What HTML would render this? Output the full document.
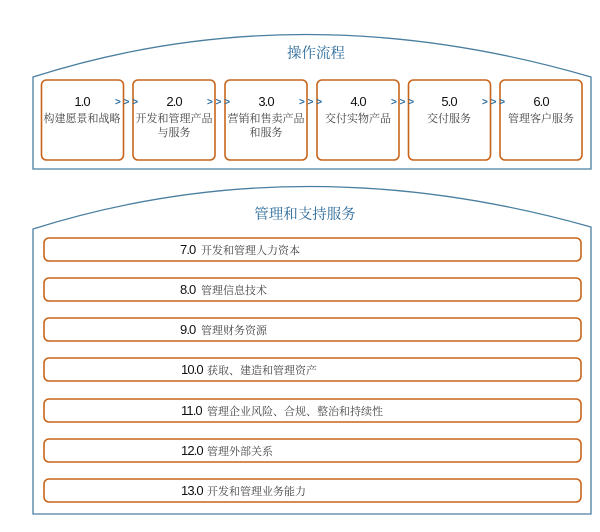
<!DOCTYPE html>
<html><head><meta charset="utf-8"><style>
body{margin:0;background:#fff;}
svg text{font-family:"Liberation Sans","Noto Sans CJK SC",sans-serif;}
.n{font-size:13px;fill:#111;letter-spacing:-0.9px;}
.c{font-family:"Noto Serif CJK SC","Liberation Serif",serif !important;font-size:11px;fill:#444;}
.t{font-family:"Noto Serif CJK SC","Liberation Serif",serif !important;font-size:14.5px;fill:#2a6a9a;}
.a{font-size:10px;fill:#2a6a9a;font-weight:bold;}
</style></head><body>
<svg width="600" height="527" viewBox="0 0 600 527" xmlns="http://www.w3.org/2000/svg">
<path d="M33,169 L33,77 Q300,-8 591,77 L591,169 Z" fill="#fff" stroke="#4a7fa0" stroke-width="1.3"/>
<path d="M33,514 L33,229 Q300,145 591,227 L591,514 Z" fill="#fff" stroke="#4a7fa0" stroke-width="1.3"/>
<text class="t" x="316" y="58" text-anchor="middle">操作流程</text>
<text class="t" x="305" y="219" text-anchor="middle">管理和支持服务</text>
<g fill="none" stroke="#c8651b" stroke-width="1.6">
<rect x="41.5" y="80" width="82" height="80" rx="5"/>
<rect x="133" y="80" width="82" height="80" rx="5"/>
<rect x="225" y="80" width="82" height="80" rx="5"/>
<rect x="317" y="80" width="82" height="80" rx="5"/>
<rect x="408.5" y="80" width="82" height="80" rx="5"/>
<rect x="500" y="80" width="82" height="80" rx="5"/>
<rect x="44" y="238" width="537" height="23" rx="5"/>
<rect x="44" y="278" width="537" height="23" rx="5"/>
<rect x="44" y="318" width="537" height="23" rx="5"/>
<rect x="44" y="358" width="537" height="23" rx="5"/>
<rect x="44" y="399" width="537" height="23" rx="5"/>
<rect x="44" y="439" width="537" height="23" rx="5"/>
<rect x="44" y="479" width="537" height="23" rx="5"/>
</g>
<g class="a">
<text x="115" y="105">&gt; &gt; &gt;</text>
<text x="207" y="105">&gt; &gt; &gt;</text>
<text x="299" y="105">&gt; &gt; &gt;</text>
<text x="391" y="105">&gt; &gt; &gt;</text>
<text x="482" y="105">&gt; &gt; &gt;</text>
</g>
<g text-anchor="middle">
<text class="n" x="82" y="106">1.0</text><text class="c" x="82" y="122">构建愿景和战略</text>
<text class="n" x="174" y="106">2.0</text><text class="c" x="174" y="122">开发和管理产品</text><text class="c" x="174" y="136">与服务</text>
<text class="n" x="266" y="106">3.0</text><text class="c" x="266" y="122">营销和售卖产品</text><text class="c" x="266" y="136">和服务</text>
<text class="n" x="358" y="106">4.0</text><text class="c" x="358" y="122">交付实物产品</text>
<text class="n" x="449" y="106">5.0</text><text class="c" x="449" y="122">交付服务</text>
<text class="n" x="541" y="106">6.0</text><text class="c" x="541" y="122">管理客户服务</text>
</g>
<g>
<text class="n" x="180" y="254">7.0</text><text class="c" x="201" y="254">开发和管理人力资本</text>
<text class="n" x="180" y="294">8.0</text><text class="c" x="201" y="294">管理信息技术</text>
<text class="n" x="180" y="334">9.0</text><text class="c" x="201" y="334">管理财务资源</text>
<text class="n" x="181" y="374">10.0</text><text class="c" x="207" y="374">获取、建造和管理资产</text>
<text class="n" x="181" y="415">11.0</text><text class="c" x="207" y="415">管理企业风险、合规、整治和持续性</text>
<text class="n" x="181" y="455">12.0</text><text class="c" x="207" y="455">管理外部关系</text>
<text class="n" x="181" y="495">13.0</text><text class="c" x="207" y="495">开发和管理业务能力</text>
</g>
</svg>
</body></html>
